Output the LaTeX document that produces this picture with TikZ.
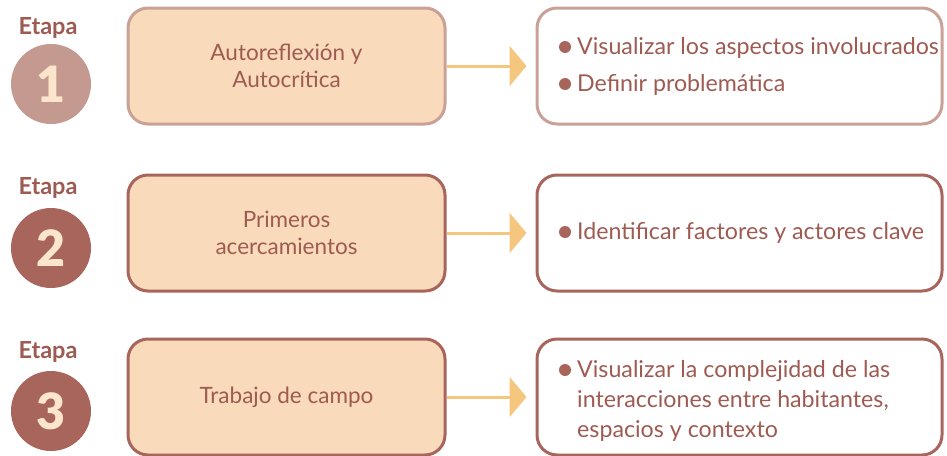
\documentclass[tikz,border=0pt]{standalone}
\usepackage{fontspec}
\setmainfont{Lato}
\newfontfamily\heavyfont{Lato Black}
\definecolor{txt}{HTML}{9E5B52}
\definecolor{lightb}{HTML}{C9A197}
\definecolor{darkb}{HTML}{A8655C}
\definecolor{boxfill}{HTML}{F9DABA}
\definecolor{arrowc}{HTML}{F5C77E}
\definecolor{numc}{HTML}{FBE6CC}
\definecolor{circ1}{HTML}{C49A90}
\usetikzlibrary{arrows.meta}
\tikzset{
  stagebox/.style={draw=#1, line width=3pt, fill=boxfill, rounded corners=20pt, minimum width=317pt, minimum height=116pt, text=txt, font=\fontsize{22.5}{27}\selectfont, align=center, inner sep=0pt},
  infobox/.style={draw=#1, line width=3pt, fill=white, rounded corners=20pt, minimum width=405pt, minimum height=116pt, inner sep=0pt},
  stagecirc/.style={circle, fill=#1, minimum size=80pt, inner sep=0pt, text=numc, font=\fontsize{50}{50}\selectfont\heavyfont},
  etapa/.style={text=txt, font=\fontsize{23.5}{24}\selectfont\bfseries, inner sep=0pt},
  flow/.style={draw=arrowc, line width=3pt, shorten >=9pt, -{Triangle[length=17pt,width=40pt]}},
  itemtxt/.style={text=txt, font=\fontsize{23.2}{30}\selectfont, align=left, inner sep=0pt, anchor=base west},
  dotb/.style={circle, fill=darkb, minimum size=12pt, inner sep=0pt}
}
\begin{document}
\begin{tikzpicture}[x=1pt,y=-1pt]
\path[use as bounding box] (0,0) rectangle (947,455);
% Row 1
\node[etapa] (e1) at (48,28) {Etapa};
\node[stagecirc=circ1] (c1) at (51,84) {1};
\node[stagebox=lightb] (b1) at (286.5,66) {Autoreflexión y\\Autocrítica};
\node[infobox=lightb] (r1) at (739.5,66) {};
\draw[flow] (b1.east) -- (r1.west);
\node[dotb] (d1a) at (565,47) {};
\node[itemtxt] (t1a) at (577,54) {Visualizar los aspectos involucrados};
\node[dotb] (d1b) at (565,84) {};
\node[itemtxt] (t1b) at (577,91) {Definir problemática};
% Row 2
\node[etapa] (e2) at (48,188) {Etapa};
\node[stagecirc=darkb] (c2) at (51,248) {2};
\node[stagebox=darkb] (b2) at (286.5,233) {Primeros\\acercamientos};
\node[infobox=darkb] (r2) at (739.5,233) {};
\draw[flow] (b2.east) -- (r2.west);
\node[dotb] (d2) at (565,232) {};
\node[itemtxt] (t2) at (577,239) {Identificar factores y actores clave};
% Row 3
\node[etapa] (e3) at (48,352) {Etapa};
\node[stagecirc=darkb] (c3) at (51,411) {3};
\node[stagebox=darkb] (b3) at (286.5,397) {Trabajo de campo};
\node[infobox=darkb] (r3) at (739.5,397) {};
\draw[flow] (b3.east) -- (r3.west);
\node[dotb] (d3) at (565,370) {};
\node[itemtxt] (t3) at (577,437) {Visualizar la complejidad de las\\interacciones entre habitantes,\\espacios y contexto};
\end{tikzpicture}
\end{document}
